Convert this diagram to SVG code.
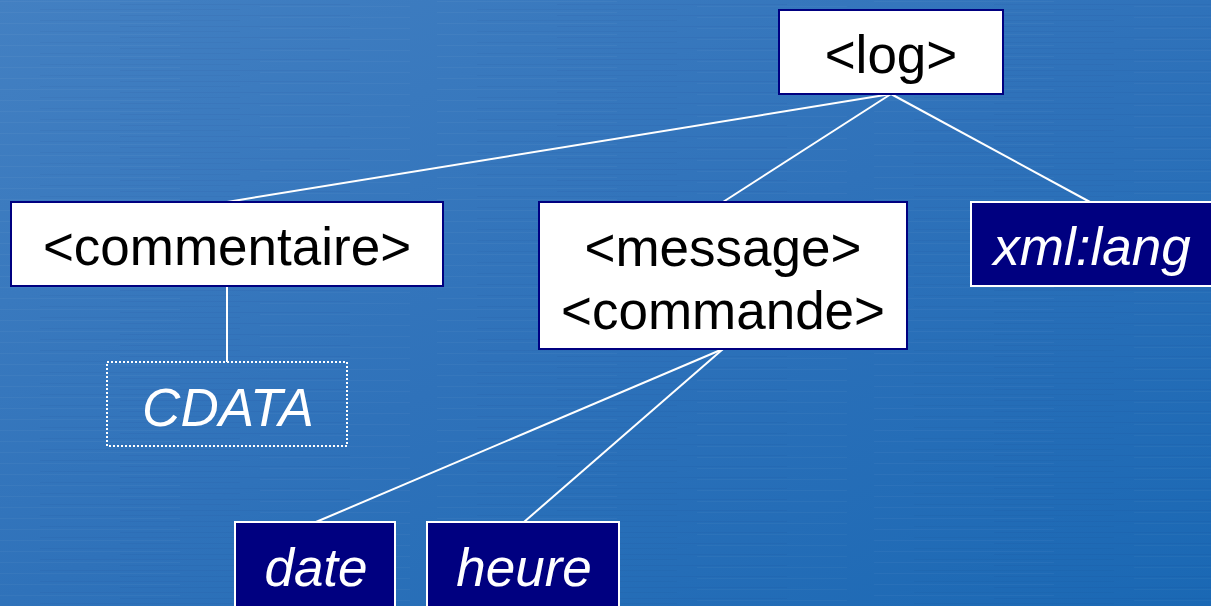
<svg xmlns="http://www.w3.org/2000/svg" width="1211" height="606" viewBox="0 0 1211 606">
<style>
.el{fill:#ffffff;stroke:#000080;stroke-width:2}
.at{fill:#000080;stroke:#ffffff;stroke-width:2}
.cd{fill:none;stroke:#ffffff;stroke-width:2;stroke-dasharray:2 2}
.tb{font-family:"Liberation Sans",Arial,sans-serif;font-size:53px;fill:#000000;text-anchor:middle}
.tw{font-family:"Liberation Sans",Arial,sans-serif;font-size:53px;fill:#ffffff;font-style:italic;text-anchor:middle}
.cn line{stroke:#ffffff;stroke-width:2}
</style>
<defs>
<linearGradient id="bg" x1="0" y1="0" x2="1" y2="1">
<stop offset="0" stop-color="#4380c2"/>
<stop offset="0.5" stop-color="#2f72ba"/>
<stop offset="1" stop-color="#1a68b4"/>
</linearGradient>
<pattern id="streak" width="437" height="11" patternUnits="userSpaceOnUse">
<rect x="0" y="1" width="180" height="1" fill="#ffffff" opacity="0.035"/>
<rect x="120" y="4" width="230" height="1" fill="#000040" opacity="0.04"/>
<rect x="260" y="6" width="150" height="1" fill="#ffffff" opacity="0.03"/>
<rect x="40" y="9" width="200" height="1" fill="#000040" opacity="0.03"/>
</pattern>
</defs>
<rect width="1211" height="606" fill="url(#bg)"/>
<rect width="1211" height="606" fill="url(#streak)"/>
<g id="connectors" class="cn">
<line x1="891" y1="94" x2="227" y2="202"/>
<line x1="891" y1="94" x2="723" y2="202"/>
<line x1="891" y1="94" x2="1090" y2="202"/>
<line x1="227" y1="286" x2="227" y2="362"/>
<line x1="723" y1="349" x2="316" y2="522"/>
<line x1="723" y1="349" x2="524" y2="522"/>
</g>
<g id="log">
<rect class="el" x="779" y="10" width="224" height="84"/>
<text class="tb" x="891" y="73">&lt;log&gt;</text>
</g>
<g id="commentaire">
<rect class="el" x="11" y="202" width="432" height="84"/>
<text class="tb" x="227" y="265">&lt;commentaire&gt;</text>
</g>
<g id="message">
<rect class="el" x="539" y="202" width="368" height="147"/>
<text class="tb" x="723" y="266">&lt;message&gt;</text>
<text class="tb" x="723" y="329">&lt;commande&gt;</text>
</g>
<g id="xmllang">
<rect class="at" x="971" y="202" width="245" height="84"/>
<text class="tw" x="1092" y="265">xml:lang</text>
</g>
<g id="cdata">
<rect class="cd" x="107" y="362" width="240" height="84"/>
<text class="tw" x="228" y="426">CDATA</text>
</g>
<g id="date">
<rect class="at" x="235" y="522" width="160" height="90"/>
<text class="tw" x="316" y="586">date</text>
</g>
<g id="heure">
<rect class="at" x="427" y="522" width="192" height="90"/>
<text class="tw" x="524" y="586">heure</text>
</g>
</svg>
